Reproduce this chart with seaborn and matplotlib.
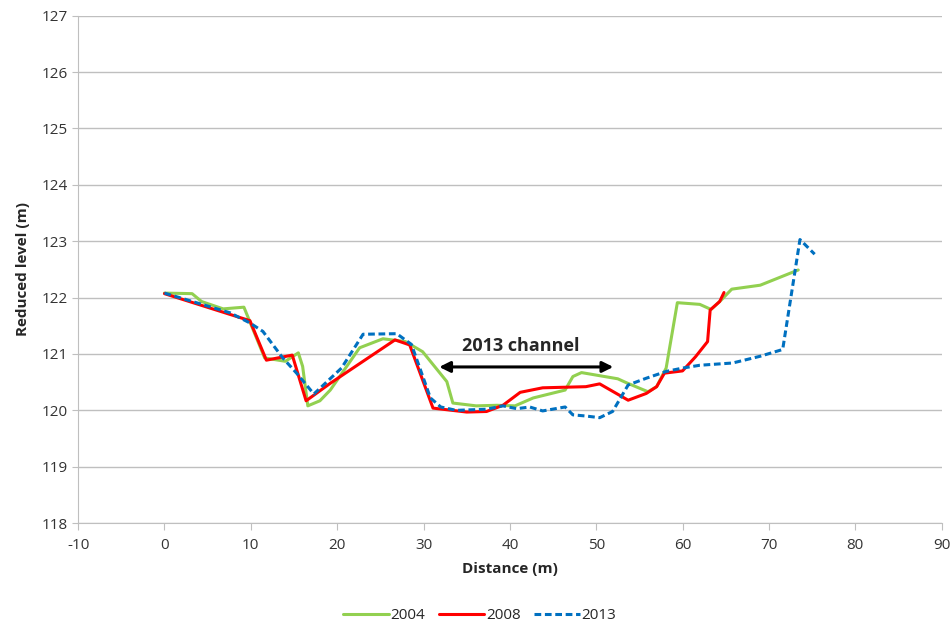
import pandas as pd
import seaborn as sns
import matplotlib.pyplot as plt

# 各年の断面データ（距離, 標高）
x_2004 = [0.0, 3.2, 4.3, 6.8, 9.2, 11.6, 14.0, 15.5, 16.0, 16.6, 18.0, 19.2, 22.6, 25.3,
          27.9, 29.9, 32.7, 33.4, 36.1, 38.5, 40.6, 42.7, 46.4, 47.3, 48.3, 52.5, 53.5,
          56.0, 57.0, 58.1, 59.4, 62.0, 63.3, 64.5, 65.7, 69.0, 73.4]
y_2004 = [122.08, 122.07, 121.93, 121.80, 121.83, 120.93, 120.87, 121.02, 120.78, 120.08,
          120.17, 120.36, 121.11, 121.27, 121.22, 121.04, 120.51, 120.13, 120.08, 120.09,
          120.08, 120.22, 120.36, 120.60, 120.67, 120.56, 120.49, 120.33, 120.42, 120.75,
          121.91, 121.88, 121.79, 121.96, 122.15, 122.22, 122.49]

x_2008 = [0.0, 9.9, 11.8, 14.8, 16.4, 19.2, 26.7, 28.4, 31.1, 35.0, 37.3, 39.2, 41.2,
          43.8, 48.8, 50.4, 53.7, 55.8, 57.0, 57.9, 60.0, 61.5, 62.9, 63.2, 64.3, 64.8]
y_2008 = [122.07, 121.59, 120.89, 120.98, 120.17, 120.48, 121.25, 121.16, 120.04, 119.97,
          119.98, 120.09, 120.32, 120.40, 120.42, 120.47, 120.18, 120.30, 120.42, 120.66,
          120.70, 120.95, 121.22, 121.78, 121.93, 122.09]

x_2013 = [0.0, 7.6, 9.9, 11.4, 13.7, 15.3, 17.3, 20.5, 23.0, 26.9, 28.6, 30.8, 32.0, 33.8,
          37.3, 39.2, 40.8, 42.3, 43.8, 46.4, 47.3, 48.8, 50.4, 51.9, 53.7, 55.8, 58.1,
          60.0, 62.0, 65.8, 69.0, 71.6, 73.6, 75.3]
y_2013 = [122.08, 121.73, 121.55, 121.40, 120.93, 120.66, 120.29, 120.75, 121.35, 121.36,
          121.17, 120.22, 120.06, 120.00, 120.02, 120.08, 120.03, 120.06, 119.99, 120.06,
          119.92, 119.90, 119.87, 119.98, 120.45, 120.57, 120.69, 120.75, 120.80, 120.84,
          120.96, 121.08, 123.03, 122.77]

years = ['2004', '2008', '2013']
colors = ['#92D050', '#FF0000', '#0070C0']

df = pd.concat([
    pd.DataFrame({'distance': x_2004, 'level': y_2004, 'year': '2004'}),
    pd.DataFrame({'distance': x_2008, 'level': y_2008, 'year': '2008'}),
    pd.DataFrame({'distance': x_2013, 'level': y_2013, 'year': '2013'}),
])

sns.set_style('white')
plt.rcParams['font.family'] = ['Open Sans', 'DejaVu Sans']
plt.rcParams['axes.unicode_minus'] = False

fig = plt.figure(figsize=(9.53, 6.28), dpi=100)
ax = fig.add_axes([0.082, 0.167, 0.906, 0.808])

sns.lineplot(data=df, x='distance', y='level', hue='year', style='year',
             palette=dict(zip(years, colors)),
             dashes={'2004': '', '2008': '', '2013': (2.2, 1.2)},
             sort=False, estimator=None, linewidth=2.2, ax=ax)

# 矢印と注記
ax.annotate('', xy=(31.5, 120.77), xytext=(52.3, 120.77),
            arrowprops=dict(arrowstyle='<|-|>', color='black', lw=2.2,
                            mutation_scale=16))
ax.text(41.3, 120.98, '2013 channel', ha='center', va='bottom',
        fontsize=13, fontweight='bold')

ax.set_xlim(-10, 90)
ax.set_ylim(118, 127)
ax.set_xticks(range(-10, 91, 10))
ax.set_yticks(range(118, 128))
ax.yaxis.grid(True, color='#BFBFBF', linewidth=1)
ax.xaxis.grid(False)
for s in ['top', 'right']:
    ax.spines[s].set_visible(False)
for s in ['left', 'bottom']:
    ax.spines[s].set_color('#BFBFBF')
ax.tick_params(axis='x', bottom=True, length=5, color='#BFBFBF', labelsize=11,
               labelcolor='#333333', pad=6)
ax.tick_params(axis='y', left=True, length=4, color='#BFBFBF', labelsize=11,
               labelcolor='#333333')
ax.set_xlabel('Distance (m)', fontsize=11, fontweight='bold', labelpad=6)
ax.set_ylabel('Reduced level (m)', fontsize=11, fontweight='bold', labelpad=8)

handles, labels = ax.get_legend_handles_labels()
ax.legend(handles, labels, loc='upper center', bbox_to_anchor=(0.465, -0.14),
          ncol=3, frameon=False, fontsize=11, handlelength=3.0,
          columnspacing=0.9, handletextpad=0.1)

plt.savefig('out.png', dpi=100)
